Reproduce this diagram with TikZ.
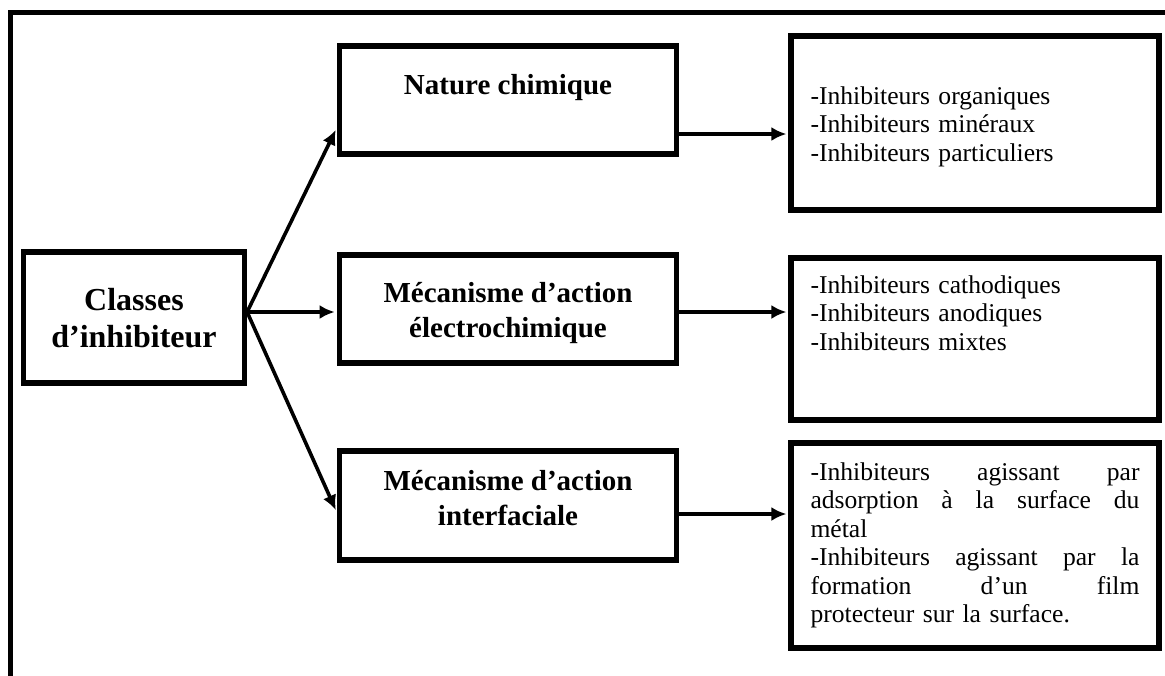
\documentclass[tikz,border=0pt]{standalone}
\usepackage{fontspec}
\setmainfont{Liberation Serif}
\usetikzlibrary{arrows.meta,calc}
\newcommand\jline[1]{\leavevmode\hbox to 164.5pt{#1}}

\begin{document}
\begin{tikzpicture}[x=0.5pt,y=-0.5pt,
    box/.style={draw,line width=2.6pt,inner sep=0pt,align=center,
      font=\fontsize{14.5}{17.5}\selectfont\bfseries},
    liste/.style={draw,line width=2.6pt,inner xsep=9.75pt,inner ysep=0pt,
      text width=164.5pt,align=left,font=\fontsize{12.8}{14.25}\selectfont},
    arr/.style={-{Latex[length=7.5pt,width=7pt]},line width=1.8pt,shorten >=1pt}]
  \useasboundingbox (0,0) rectangle (1165,675);
  \clip (0,0) rectangle (1165,675);
  % cadre
  \draw[line width=2.5pt] (10.5,700) |- (1200,12.5);

  \node[box,minimum width=110.5pt,text height=47.5pt,text depth=18pt,
    font=\fontsize{16}{18.5}\selectfont\bfseries] (classes) at (134,317.5)
    {Classes\\d’inhibiteur};

  \node[box,minimum width=168.75pt,text height=24pt,text depth=30pt]
    (nature) at (508,100) {Nature chimique};
  \node[box,minimum width=168.75pt,text height=41pt,text depth=13pt]
    (elec) at (508,309) {Mécanisme d’action\\électrochimique};
  \node[box,minimum width=168.75pt,text height=37pt,text depth=17.5pt]
    (inter) at (508,505.5) {Mécanisme d’action\\interfaciale};

  \node[liste,text height=34pt,text depth=53pt] (chim) at (975,123)
    {-Inhibiteurs organiques\\-Inhibiteurs minéraux\\-Inhibiteurs particuliers};
  \node[liste,text height=17.5pt,text depth=63.5pt] (electro) at (975,339)
    {-Inhibiteurs cathodiques\\-Inhibiteurs anodiques\\-Inhibiteurs mixtes};
  \node[liste,text height=18.5pt,text depth=84pt] (interf) at (975,545.5)
    {\jline{-Inhibiteurs\hfill agissant\hfill par}\\
     \jline{adsorption\hfill à\hfill la\hfill surface\hfill du}\\
     métal\\
     \jline{-Inhibiteurs\hfill agissant\hfill par\hfill la}\\
     \jline{formation\hfill d’un\hfill film}\\
     protecteur sur la surface.};

  % fleches
  \coordinate (fan) at ($(classes.east)+(0,-5.5)$);
  \draw[arr] (fan) -- ($(nature.west)+(0,28)$);
  \draw[arr] (fan) -- (fan -| elec.west);
  \draw[arr] (fan) -- ($(inter.west)+(0,6.5)$);

  \coordinate (n1) at ($(nature.east)+(0,34)$);
  \coordinate (n3) at ($(inter.east)+(0,8.5)$);
  \draw[arr] (n1) -- (n1 -| chim.west);
  \draw[arr] (fan -| elec.east) -- (fan -| electro.west);
  \draw[arr] (n3) -- (n3 -| interf.west);
\end{tikzpicture}
\end{document}
